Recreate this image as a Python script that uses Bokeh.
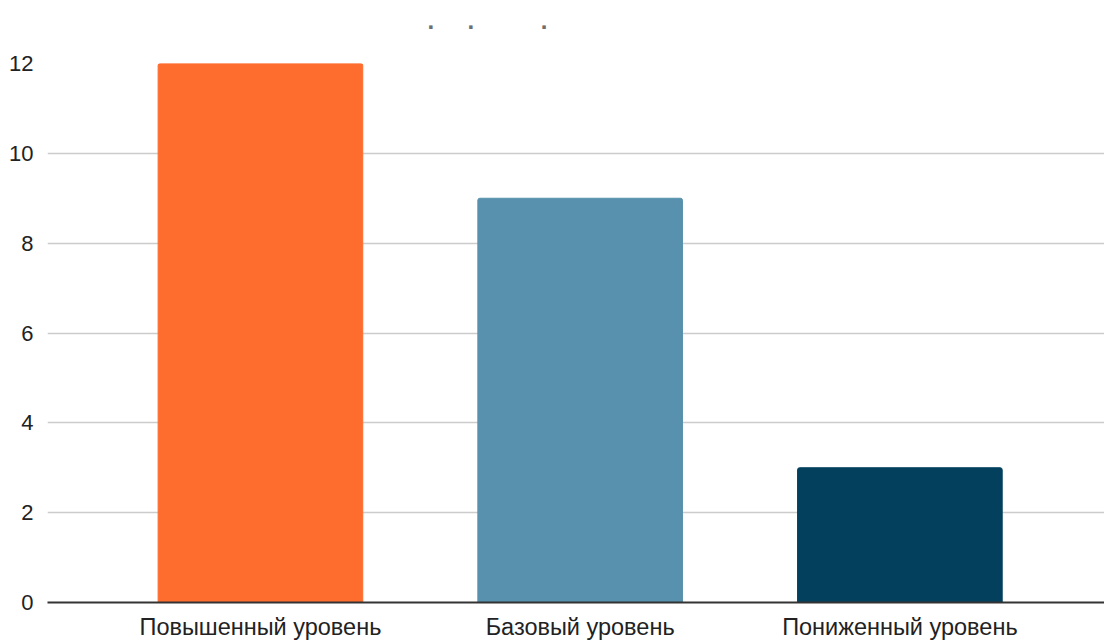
from bokeh.plotting import figure
from bokeh.models import Range1d, ColumnDataSource, FixedTicker, Title
from bokeh.embed import file_html
from bokeh.resources import INLINE

categories = ["Повышенный уровень", "Базовый уровень", "Пониженный уровень"]
values = [12, 9, 3]
colors = ["#FF6D2E", "#5791AD", "#02405E"]
y_ticks = [0, 2, 4, 6, 8, 10, 12]
title_text = "." + "\u00a0" * 5 + "." + "\u00a0" * 10 + ".\n\u00a0"

positions = list(range(len(categories)))
src = ColumnDataSource(dict(x=positions, val=values, color=colors))

p = figure(width=1104, height=642, output_backend="svg", toolbar_location=None,
           x_range=Range1d(-0.666, len(categories) - 1 + 0.64),
           y_range=Range1d(0, 12),
           min_border_left=47, min_border_right=0, min_border_top=63, min_border_bottom=39)

p.title = Title(text=title_text, text_font_size="24px", text_color="#6E6E6E",
                align="left", offset=380, text_font="Liberation Sans",
                text_font_style="bold", standoff=5)

p.vbar(x="x", top="val", width=0.64, color="color", source=src,
       border_radius=(2, 2, 0, 0))

p.outline_line_color = None
p.xgrid.grid_line_color = None
p.ygrid.grid_line_color = "#CCCCCC"
p.ygrid.grid_line_width = 1.5
p.yaxis.ticker = FixedTicker(ticks=y_ticks)
p.yaxis.axis_line_color = None
p.yaxis.major_tick_line_color = None
p.yaxis.minor_tick_line_color = None
p.yaxis.major_label_standoff = 8
p.yaxis.major_label_text_font = "Liberation Sans"
p.yaxis.major_label_text_font_size = "22px"
p.yaxis.major_label_text_color = "#222222"

p.xaxis.ticker = FixedTicker(ticks=positions)
p.xaxis.major_label_overrides = {i: c for i, c in zip(positions, categories)}
p.xaxis.axis_line_color = "#333333"
p.xaxis.axis_line_width = 2
p.xaxis.major_tick_line_color = None
p.xaxis.minor_tick_line_color = None
p.xaxis.major_label_standoff = 5
p.xaxis.major_label_text_font = "Liberation Sans"
p.xaxis.major_label_text_font_size = "23.5px"
p.xaxis.major_label_text_color = "#222222"

open("out.html", "w").write(file_html(p, INLINE))
